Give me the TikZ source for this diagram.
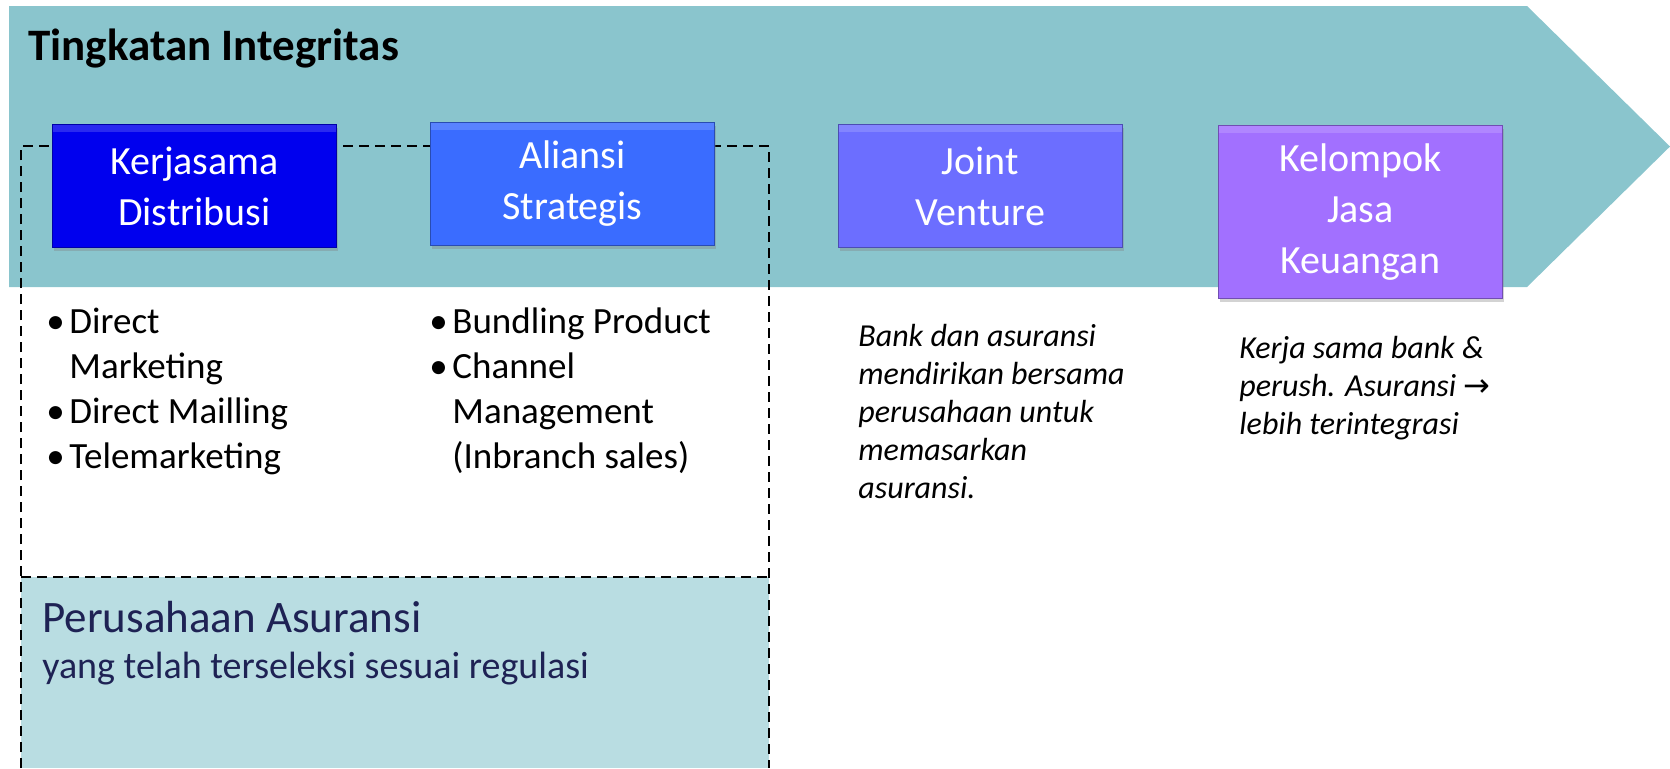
\documentclass[tikz,border=0pt]{standalone}
\usepackage{fontspec}
\setmainfont{Carlito}
\newfontfamily\symfont{DejaVu Sans}
\usetikzlibrary{shadows}
\definecolor{tiband}{RGB}{138,197,205}
\definecolor{tilow}{RGB}{185,221,226}
\definecolor{tinavy}{RGB}{30,34,84}
\definecolor{tidist}{RGB}{0,0,238}
\definecolor{tiali}{RGB}{58,108,255}
\definecolor{tijv}{RGB}{108,110,255}
\definecolor{tikjk}{RGB}{162,112,255}
\newcommand\blt{\makebox[11.5pt][l]{•}}
\tikzset{
  tier/.style={draw=#1!70!black, fill=#1, text=white, align=center, inner sep=0pt,
               minimum width=142pt, minimum height=61.5pt,
               font=\fontsize{20}{25.5}\selectfont,
               drop shadow={opacity=0.35, shadow xshift=1pt, shadow yshift=-2pt},
               path picture={\fill[white, opacity=0.16] (path picture bounding box.north west)
                 rectangle ([yshift=-4pt]path picture bounding box.north east);}},
  title/.style={font=\bfseries\fontsize{22.5}{27}\selectfont, inner sep=0pt},
  list/.style={align=left, inner sep=0pt, font=\fontsize{18.5}{22.5}\selectfont},
  note/.style={align=left, inner sep=0pt, font=\itshape\fontsize{16}{19}\selectfont},
  dashline/.style={draw=black, line width=1.3pt, dash pattern=on 5pt off 3pt}
}
\begin{document}
\begin{tikzpicture}[x=0.5pt, y=-0.5pt]
  \useasboundingbox (0,0) rectangle (1670,768);
  % arrow band
  \fill[tiband] (9,6) -- (1527,6) -- (1670,146.5) -- (1527,287) -- (9,287) -- cycle;
  \node[title, anchor=base west] (ttl) at (28,60) {Tingkatan Integritas};
  % insurance area
  \fill[tilow] (21,577) rectangle (769,768);
  \draw[dashline] (21,768) -- (21,146) -- (769,146) -- (769,768);
  \draw[dashline] (21,577) -- (769,577);
  % tiers
  \node[tier=tidist, anchor=north west] (kd) at (52,124) {Kerjasama\\Distribusi};
  \node[tier=tiali, anchor=north west] (as) at (430,122) {Aliansi\\Strategis};
  \node[tier=tijv, anchor=north west] (jv) at (838,124) {Joint\\Venture};
  \node[tier=tikjk, anchor=north west, minimum height=86.5pt] (kjk) at (1218,125) {Kelompok\\Jasa\\Keuangan};
  % details (base = last line)
  \node[list, anchor=base west] (kdl) at (46,468) {\blt Direct\\\phantom{\blt}Marketing\\\blt Direct Mailling\\\blt Telemarketing};
  \node[list, anchor=base west] (asl) at (429,468) {\blt Bundling Product\\\blt Channel\\\phantom{\blt}Management\\\phantom{\blt}(Inbranch sales)};
  \node[note, anchor=base west] (jvn) at (858,498) {Bank dan asuransi\\mendirikan bersama\\perusahaan untuk\\memasarkan\\asuransi.};
  \node[note, anchor=base west] (kjkn) at (1239,434) {Kerja sama bank \&\\perush. Asuransi {\upshape\symfont\fontsize{16}{19}\selectfont →}\\lebih terintegrasi};
  \node[anchor=base west, inner sep=0pt, text=tinavy, font=\fontsize{22.5}{27}\selectfont] (pa) at (42,632) {Perusahaan Asuransi};
  \node[anchor=base west, inner sep=0pt, text=tinavy, font=\fontsize{19}{23}\selectfont] (pas) at (42,678) {yang telah terseleksi sesuai regulasi};
\end{tikzpicture}
\end{document}
